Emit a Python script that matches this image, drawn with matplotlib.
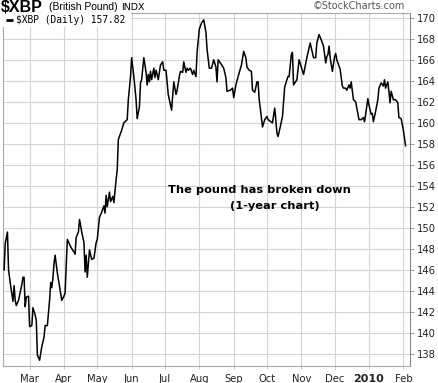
import numpy as np
import matplotlib
matplotlib.use("Agg")
import matplotlib.pyplot as plt

# ---- data: days since 2009-03-01, $XBP close ----
days = [-23, -22, -20, -19, -17, -15, -14, -13, -12, -10, -7, -6, -5, -4, -3, -1,
        0, 2, 3, 5, 6, 7, 9, 11, 13, 14, 16, 18, 19, 20, 21, 22, 23, 25, 27, 29,
        31, 32, 33, 34, 37, 40, 41, 42, 44, 45, 47, 49, 50, 51, 52, 54, 56, 58,
        60, 61, 63, 65, 67, 68, 69, 70, 72, 73, 75, 76, 78, 79, 80, 83, 85, 87,
        88, 89, 91, 92, 94, 96, 97, 99, 100, 101, 103, 105, 106, 107, 108, 109,
        110, 112, 113, 114, 115, 116, 118, 120, 121, 123, 124, 125, 127, 128,
        130, 132, 133, 135, 136, 138, 139, 141, 142, 143, 145, 147, 148, 150,
        151, 153, 155, 157, 159, 160, 162, 164, 166, 168, 169, 170, 172, 175,
        177, 178, 181, 183, 184, 186, 188, 191, 193, 195, 196, 198, 200, 201,
        203, 205, 206, 207, 208, 210, 212, 214, 215, 219, 221, 222, 223, 224,
        226, 228, 230, 232, 233, 234, 236, 237, 238, 241, 243, 245, 247, 249,
        250, 253, 256, 258, 259, 261, 263, 265, 267, 268, 269, 270, 271, 273,
        275, 276, 277, 279, 280, 282, 283, 285, 286, 288, 289, 290, 292, 294,
        296, 297, 299, 301, 302, 303, 305, 306, 308, 309, 310, 312, 314, 315,
        317, 319, 320, 321, 323, 324, 325, 326, 328, 330, 332, 333, 335, 337, 339]
close = [146.0, 148.5, 149.6, 146.0, 144.4, 143.0, 144.5, 143.1, 142.6, 143.1,
         144.6, 145.3, 145.3, 142.5, 143.4, 143.5,
         140.6, 140.7, 142.4, 141.7, 141.2, 137.9, 137.4, 138.7, 139.6, 140.7,
         140.7, 143.1, 144.8, 144.3, 145.2, 146.6, 147.4, 145.7, 144.4, 143.1,
         143.5, 143.8, 146.3, 148.9, 148.2, 147.7, 147.5, 149.1, 149.6, 150.8,
         149.6, 148.6, 145.8, 147.4, 145.3, 147.9, 147.0, 147.1,
         148.6, 148.9, 151.0, 151.5, 152.1, 151.4, 153.1, 152.0, 153.4, 152.5,
         153.0, 152.4, 154.6, 155.5, 158.4, 159.3, 160.0, 160.2,
         160.3, 162.2, 164.4, 166.2, 164.4, 162.2, 160.4, 161.5, 163.8, 164.1,
         166.2, 164.8, 163.6, 164.6, 163.9, 164.9,
         164.1, 165.2, 164.3, 165.0, 164.6, 164.1, 165.5, 165.8, 165.0, 165.0,
         163.9, 162.7, 161.7, 161.2,
         163.9, 162.7, 163.1, 164.4, 164.9, 164.8, 165.8, 164.8, 165.2, 165.0,
         165.2, 164.6, 165.0, 164.4,
         166.7, 168.9, 169.5, 169.8, 168.6, 167.0, 165.2, 165.2, 166.0, 165.3,
         163.9, 166.0, 165.7, 165.2,
         164.3, 163.0, 163.1, 163.3, 162.4, 163.6, 164.4, 165.5, 166.8, 166.2,
         165.3, 165.0, 164.9, 163.1,
         162.9, 163.9, 163.9, 162.2, 161.4, 159.6, 160.3, 160.6, 160.3, 160.0,
         161.4, 160.3, 159.0, 158.7,
         159.6, 160.6, 163.4, 164.1, 164.4, 164.4, 166.5, 166.7, 163.6, 164.1,
         166.0, 165.3, 164.6, 165.7,
         166.2, 167.6, 166.2, 166.2, 167.6, 168.4, 167.9, 167.3, 165.7, 166.3,
         166.5, 167.3, 166.2, 164.9,
         166.3, 166.6, 166.0, 165.4, 165.1, 163.5, 163.3, 163.3, 163.1, 163.6,
         163.3, 163.9, 162.2, 162.0,
         160.9, 160.3, 160.3, 160.5, 160.1, 160.8, 162.3, 161.7, 160.8, 160.9,
         160.1, 161.1, 162.2, 163.3,
         163.8, 163.5, 164.1, 163.3, 163.9, 163.0, 161.9, 163.0, 162.2, 162.2,
         161.9, 160.5, 160.4, 159.3, 157.82]

month_starts = ["2009-03-01", "2009-04-01", "2009-05-01", "2009-06-01", "2009-07-01",
                "2009-08-01", "2009-09-01", "2009-10-01", "2009-11-01", "2009-12-01",
                "2010-01-01", "2010-02-01"]
month_labels = ["Mar", "Apr", "May", "Jun", "Jul", "Aug", "Sep", "Oct", "Nov", "Dec",
                "2010", "Feb"]
y_ticks = list(range(138, 171, 2))

title_sym = "$XBP"
title_name = "(British Pound)"
title_ex = "INDX"
legend_text = "$XBP (Daily) 157.82"
note_line1 = "The pound has broken down"
note_line2 = "(1-year chart)"
credit = "\u00a9StockCharts.com"

# ---- figure ----
W, H = 439, 383
fig = plt.figure(figsize=(W / 100, H / 100), dpi=100)
ax = fig.add_axes([3 / W, (H - 366) / H, (410 - 3) / W, (366 - 12.5) / H])

dates = np.datetime64("2009-03-01") + np.array(days).astype("timedelta64[D]")
ax.plot(dates, close, color="black", lw=1.1, solid_joinstyle="round", zorder=3)

ax.set_xlim(np.datetime64("2009-02-05"), np.datetime64("2010-02-07"))
ax.set_ylim(136.85, 170.5)

grid_c = "#d4d4d4"
ax.set_yticks(y_ticks)
ax.set_xticks([np.datetime64(m) for m in month_starts])
ax.grid(True, color=grid_c, lw=0.8)
ax.set_axisbelow(True)

ax.yaxis.tick_right()
ax.tick_params(axis="y", length=3, width=0.6, color="#888888", pad=2,
               labelsize=7.2, labelcolor="#222222")
ax.tick_params(axis="x", length=2, width=0.6, color="#bbbbbb", pad=4,
               labelsize=7.2, labelcolor="#222222")
ax.set_xticklabels(month_labels)
for lbl in ax.get_xticklabels():
    if lbl.get_text() == "2010":
        lbl.set_fontweight("bold")
        lbl.set_fontsize(8)
for sp in ax.spines.values():
    sp.set_color("#a8a8a8")
    sp.set_linewidth(0.8)
ax.spines["right"].set_linestyle((0, (1, 1)))
ax.spines["right"].set_color("#888888")

# title row
fig.text(1 / W, 1 - 7 / H, title_sym, fontsize=11.5, fontweight="bold",
         va="center", ha="left", family="Liberation Sans")
fig.text(49 / W, 1 - 7 / H, title_name, fontsize=7.5, va="center", ha="left",
         family="Liberation Sans")
fig.text(121 / W, 1 - 7 / H, title_ex, fontsize=6.8, va="center", ha="left",
         family="DejaVu Sans")
fig.text(405 / W, 1 - 6 / H, credit, fontsize=7, va="center", ha="right",
         color="#555555", family="DejaVu Sans")

# legend
ax.add_patch(plt.Rectangle((0, 1 - 14 / 353.5), 128 / 407, 14 / 353.5,
                           transform=ax.transAxes, facecolor="white",
                           edgecolor="none", zorder=4))
ax.plot([3 / 407, 10 / 407], [1 - 7.5 / 353.5] * 2, transform=ax.transAxes,
        color="black", lw=2, zorder=5, solid_capstyle="butt")
ax.text(13 / 407, 1 - 7.5 / 353.5, legend_text, transform=ax.transAxes,
        fontsize=6.9, family="DejaVu Sans Mono", va="center", ha="left", zorder=5)

# annotation
ax.text(np.datetime64("2009-09-24"), 153.6, note_line1, fontsize=8.2,
        fontweight="bold", ha="center", va="center", family="DejaVu Sans")
ax.text(np.datetime64("2009-10-08"), 152.1, note_line2, fontsize=8.2,
        fontweight="bold", ha="center", va="center", family="DejaVu Sans")

fig.savefig("out.png", dpi=100)
